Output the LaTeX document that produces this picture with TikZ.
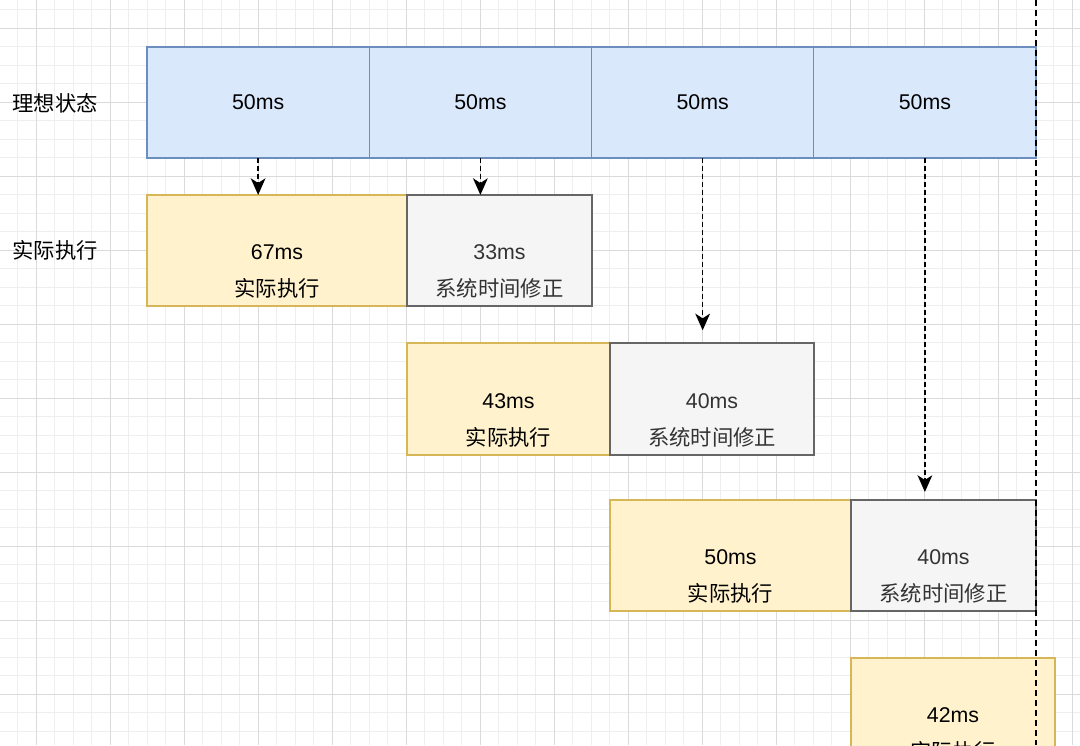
\documentclass[tikz,border=0pt]{standalone}
\usepackage{fontspec}
\setmainfont{Liberation Sans}
\newfontfamily\cjk{Noto Sans CJK SC}
\usepackage{xcolor}
\usetikzlibrary{arrows.meta}
\usetikzlibrary{positioning}

\definecolor{idealfill}{HTML}{DAE8FC}
\definecolor{idealline}{HTML}{6C8EBF}
\definecolor{execfill}{HTML}{FFF2CC}
\definecolor{execline}{HTML}{D6B656}
\definecolor{fixfill}{HTML}{F5F5F5}
\definecolor{fixline}{HTML}{666666}
\definecolor{fixtext}{HTML}{333333}
\definecolor{gridminor}{HTML}{EEEEEE}
\definecolor{gridmajor}{HTML}{DADADA}

% two lines of a box, first line on the box centre
\newcommand{\boxtext}[2]{\raisebox{-6.9pt}[0pt][0pt]{\begin{tabular}[t]{@{}c@{}}#1\\{\cjk #2}\end{tabular}}}

\begin{document}
\begin{tikzpicture}[x=0.75pt,y=-0.75pt,
    font=\fontsize{16}{27.75}\selectfont,
    minor grid/.style={gridminor,line width=0.5pt},
    major grid/.style={gridmajor,line width=0.6pt},
    ideal box/.style={draw=idealline,fill=idealfill,line width=0.9pt,inner sep=0pt,outer sep=0pt,
        minimum width=166.69pt,minimum height=83.25pt},
    exec box/.style={draw=execline,fill=execfill,line width=0.9pt,inner sep=0pt,outer sep=0pt,
        minimum height=83.25pt},
    fix box/.style={draw=fixline,fill=fixfill,line width=0.9pt,inner sep=0pt,outer sep=0pt,
        minimum height=83.25pt,text=fixtext},
    tick/.style={-{Stealth[length=12.5pt,width=11pt,inset=3.5pt]},line width=1.2pt,dash pattern=on 3.5pt off 2.5pt},
    row label/.style={font=\fontsize{16}{19}\selectfont\cjk}]
    \useasboundingbox (0,0) rectangle (1080,745);
    \fill[white] (0,0) rectangle (1080,745);

    % grid
    \foreach \i in {-1,...,56} \draw[minor grid] ({36+18.5*\i},0)--({36+18.5*\i},745);
    \foreach \j in {-1,...,38} \draw[minor grid] (0,{28+18.5*\j})--(1080,{28+18.5*\j});
    \foreach \i in {0,...,14} \draw[major grid] ({36+74*\i},0)--({36+74*\i},745);
    \foreach \j in {0,...,9} \draw[major grid] (0,{28+74*\j})--(1080,{28+74*\j});

    \node[row label] (lbl ideal) at (55,103) {理想状态};
    \node[row label] (lbl exec) at (55,250) {实际执行};

    % ideal state
    \node[ideal box,anchor=north west] (i1) at (147,47) {50ms};
    \node[ideal box,right=0pt of i1] (i2) {50ms};
    \node[ideal box,right=0pt of i2] (i3) {50ms};
    \node[ideal box,right=0pt of i3] (i4) {50ms};

    % actual run
    \node[exec box,minimum width=195pt,anchor=north west] (e1) at (147,195) {\boxtext{67ms}{实际执行}};
    \node[fix box,minimum width=138.75pt,right=0pt of e1] (f1) {\boxtext{33ms}{系统时间修正}};
    \node[exec box,minimum width=152.25pt,minimum height=84pt,below=27.75pt of f1.south west,anchor=north west] (e2) {\boxtext{43ms}{实际执行}};
    \node[fix box,minimum width=153pt,minimum height=84pt,right=0pt of e2] (f2) {\boxtext{40ms}{系统时间修正}};
    \node[exec box,minimum width=180.75pt,below=33.75pt of f2.south west,anchor=north west] (e3) {\boxtext{50ms}{实际执行}};
    \node[fix box,minimum width=138.75pt,right=0pt of e3] (f3) {\boxtext{40ms}{系统时间修正}};
    \node[exec box,minimum width=153pt,below=35.25pt of f3.south west,anchor=north west] (e4) {\boxtext{42ms}{实际执行}};

    \draw[tick] (i1.south)--(i1.south |- e1.north);
    \draw[tick] (i2.south)--(i2.south |- f1.north);
    \draw[tick,shorten >=9.5pt] (i3.south)--(i3.south |- f2.north);
    \draw[tick,shorten >=6pt] (i4.south)--(i4.south |- f3.north);

    \coordinate (cut top) at (1036,0);
    \coordinate (cut bottom) at (1036,745);
    \draw[line width=1.2pt,dash pattern=on 4.5pt off 3pt] (cut top)--(cut bottom);
\end{tikzpicture}
\end{document}
